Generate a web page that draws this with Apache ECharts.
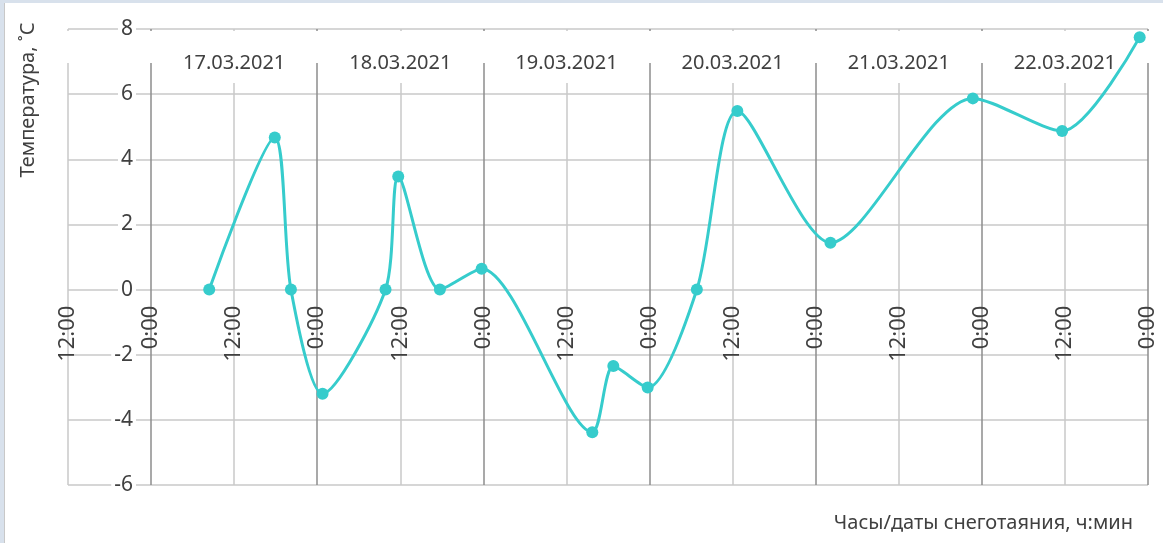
<!DOCTYPE html>
<html>
<head>
<meta charset="utf-8">
<script src="https://cdn.jsdelivr.net/npm/echarts@6/dist/echarts.min.js"></script>
<style>
    html, body { margin: 0; padding: 0; background: #fff; }
    #chart { width: 1163px; height: 543px; }
</style>
</head>
<body>
<div id="chart"></div>
<script>
// measurement times (dd.mm hh:mm, 2021) and temperatures
const times = ['17.03 08:24', '17.03 17:52', '17.03 20:12', '18.03 00:46', '18.03 09:52', '18.03 11:42',
    '18.03 17:43', '18.03 23:45', '19.03 15:44', '19.03 18:46', '19.03 23:44', '20.03 06:50',
    '20.03 12:41', '21.03 02:08', '21.03 22:42', '22.03 11:36', '22.03 22:48'];
const temps = [0, 4.67, 0, -3.2, 0, 3.47, 0, 0.64, -4.38, -2.35, -3.01, 0, 5.48, 1.44, 5.87, 4.87, 7.75];
const dateLabels = ['17.03.2021', '18.03.2021', '19.03.2021', '20.03.2021', '21.03.2021', '22.03.2021'];
const hourLabels = ['0:00', '12:00'];

const textColor = '#404040';
const font = 'Noto Sans';
const gridBottom = 58;

// hours counted from 16.03 0:00
const toHours = (s) => {
    const [d, t] = s.split(' ');
    const day = parseInt(d.split('.')[0], 10);
    const [h, m] = t.split(':').map(Number);
    return (day - 16) * 24 + h + m / 60;
};

const chart = echarts.init(document.getElementById('chart'));

chart.setOption({
    animation: false,
    backgroundColor: '#fff',
    textStyle: { fontFamily: font },
    grid: { left: 68, right: 15, top: 29, bottom: gridBottom, containLabel: false, outerBoundsMode: 'none' },
    xAxis: [{
        type: 'value',
        min: 12,
        max: 168,
        interval: 12,
        axisLine: { show: false, onZero: false },
        axisTick: { show: false },
        axisLabel: {
            rotate: 90,
            margin: 16,
            fontSize: 22,
            color: textColor,
            fontFamily: font,
            showMinLabel: true,
            showMaxLabel: true,
            formatter: (v) => hourLabels[(v % 24) / 12],
        },
        splitLine: {
            show: true,
            lineStyle: { color: ['#c8c8c8', '#8c8c8c'], width: 1.5 },
        },
    }, {
        type: 'value',
        position: 'top',
        min: 12,
        max: 168,
        interval: 12,
        axisLine: { show: false, onZero: false },
        axisTick: { show: false },
        splitLine: { show: false },
        axisLabel: {
            inside: true,
            margin: 2,
            fontSize: 20,
            color: textColor,
            fontFamily: font,
            backgroundColor: '#fff',
            padding: [22, 6, 10, 6],
            formatter: (v) => {
                const i = (v - 36) / 24;
                return Number.isInteger(i) && dateLabels[i] ? dateLabels[i] : '';
            },
        },
    }],
    yAxis: {
        type: 'value',
        min: -6,
        max: 8,
        interval: 2,
        axisLine: { show: false },
        axisTick: { show: false },
        axisLabel: {
            inside: true,
            align: 'right',
            margin: 68,
            fontSize: 21,
            color: textColor,
            fontFamily: font,
            backgroundColor: '#fff',
            padding: [0, 3],
        },
        splitLine: { lineStyle: { color: '#c8c8c8', width: 1.5 } },
    },
    graphic: [
        { type: 'rect', shape: { x: 0, y: 0, width: 1163, height: 3 }, style: { fill: '#d8e1ec' } },
        { type: 'rect', shape: { x: 0, y: 0, width: 4, height: 543 }, style: { fill: '#d8e1ec' } },
        { type: 'rect', shape: { x: 4, y: 3, width: 1, height: 540 }, style: { fill: '#c8c8c8' } },
        {
            type: 'text', x: 28, y: 100, rotation: Math.PI / 2,
            style: {
                text: 'Температура, ˚С', fill: textColor, font: '20px "Noto Sans"',
                align: 'center', verticalAlign: 'middle',
            },
        },
        {
            type: 'text', x: 1133, y: 523,
            style: {
                text: 'Часы/даты снеготаяния, ч:мин', fill: textColor, font: '20px "Noto Sans"',
                align: 'right', verticalAlign: 'middle',
            },
        },
    ],
    series: [{
        type: 'line',
        xAxisIndex: 0,
        data: times.map((t, i) => [toHours(t), temps[i]]),
        smooth: 0.27,
        symbol: 'circle',
        symbolSize: 12,
        z: 5,
        lineStyle: { color: '#36cccc', width: 3 },
        itemStyle: { color: '#36cccc' },
    }],
});

// hour labels sit on the 0 °C line, as in the original
const zeroY = chart.convertToPixel({ yAxisIndex: 0 }, 0);
const axisY = chart.getHeight() - gridBottom;
chart.setOption({ xAxis: [{ offset: zeroY - axisY }, {}] });
</script>
</body>
</html>
